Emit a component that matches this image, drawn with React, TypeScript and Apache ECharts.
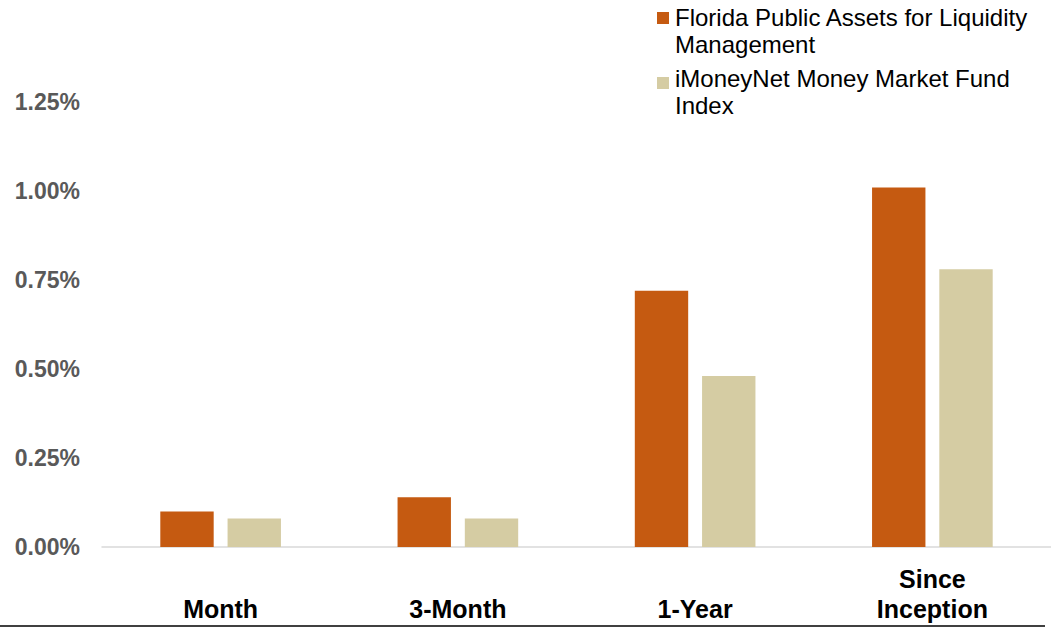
import React, { useEffect, useRef } from "react";
import * as echarts from "echarts";

const categories = ["Month", "3-Month", "1-Year", "Since\nInception"];
const seriesNames = [
  "Florida Public Assets for Liquidity\nManagement",
  "iMoneyNet Money Market Fund\nIndex",
];
const fpalValues = [0.1, 0.14, 0.72, 1.01];
const imoneyValues = [0.08, 0.08, 0.48, 0.78];
const yTicks = { min: 0, max: 1.25, interval: 0.25 };
const colors = ["#C55A11", "#D5CCA3"];

const FONT = "Liberation Sans, Arial, Helvetica, sans-serif";

export default function App() {
  const ref = useRef<HTMLDivElement>(null);
  useEffect(() => {
    if (!ref.current) return;
    const chart = echarts.init(ref.current, undefined, { renderer: "svg" });
    chart.setOption({
      animation: false,
      backgroundColor: "#ffffff",
      grid: { left: 102, right: -2, top: 102, bottom: 81, containLabel: false },
      xAxis: {
        type: "category",
        data: categories,
        axisLine: { show: true, lineStyle: { color: "#D9D9D9", width: 1.5 } },
        axisTick: { show: false },
        axisLabel: {
          margin: 17,
          color: "#000000",
          fontFamily: FONT,
          fontWeight: "bold",
          fontSize: 25,
          lineHeight: 30,
          interval: 0,
          formatter: (v: string) => (v.indexOf("\n") >= 0 ? v : "\n" + v),
        },
      },
      yAxis: {
        type: "value",
        min: yTicks.min,
        max: yTicks.max,
        interval: yTicks.interval,
        splitLine: { show: false },
        axisLine: { show: false },
        axisTick: { show: false },
        axisLabel: {
          margin: 22,
          color: "#595959",
          fontFamily: FONT,
          fontWeight: "bold",
          fontSize: 23,
          formatter: (v: number) => v.toFixed(2) + "%",
        },
      },
      series: [
        {
          name: seriesNames[0],
          type: "bar",
          data: fpalValues,
          barWidth: "22.5%",
          barGap: "26%",
          itemStyle: { color: colors[0] },
        },
        {
          name: seriesNames[1],
          type: "bar",
          data: imoneyValues,
          barWidth: "22.5%",
          barGap: "26%",
          itemStyle: { color: colors[1] },
        },
      ],
      graphic: [
        {
          type: "line",
          shape: { x1: 0, y1: 626, x2: 1045, y2: 626 },
          style: { stroke: "#404040", lineWidth: 2 },
        },
        {
          type: "rect",
          shape: { x: 657, y: 12, width: 12, height: 12 },
          style: { fill: colors[0] },
        },
        {
          type: "text",
          x: 675,
          y: 3.5,
          style: {
            text: seriesNames[0],
            font: `24px ${FONT}`,
            lineHeight: 27,
            fill: "#000000",
            verticalAlign: "top",
          },
        },
        {
          type: "rect",
          shape: { x: 657, y: 77, width: 12, height: 12 },
          style: { fill: colors[1] },
        },
        {
          type: "text",
          x: 675,
          y: 65,
          style: {
            text: seriesNames[1],
            font: `24px ${FONT}`,
            lineHeight: 27,
            fill: "#000000",
            verticalAlign: "top",
          },
        },
      ],
    });
    return () => chart.dispose();
  }, []);
  return (
    <div
      ref={ref}
      style={{ position: "fixed", left: 0, top: 0, width: 1051, height: 628 }}
    />
  );
}
